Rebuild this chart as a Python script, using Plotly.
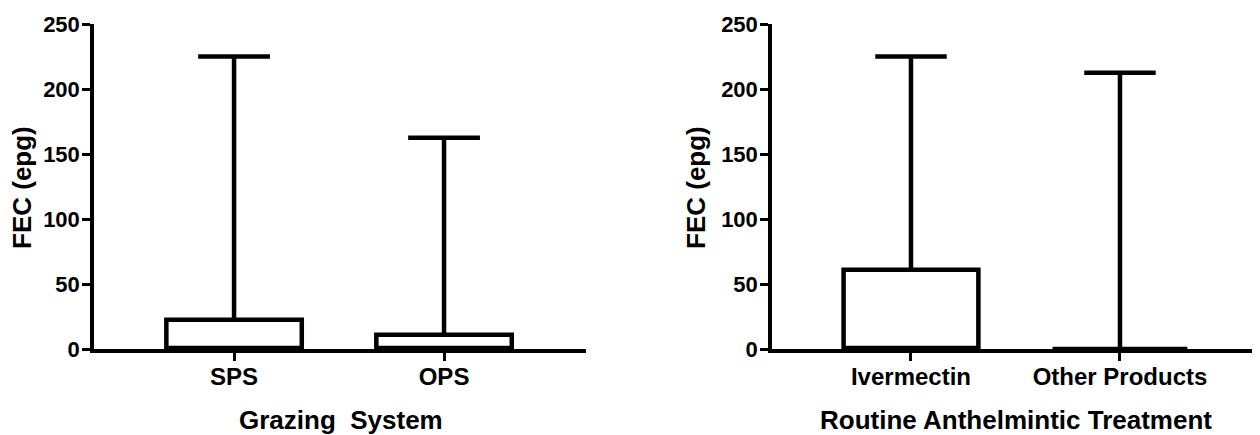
import plotly.graph_objects as go

# ---- data ----
grazing_cats = ["SPS", "OPS"]
grazing_q1 = [0, 0]
grazing_median = [0, 0]
grazing_q3 = [22.5, 11]
grazing_min = [0, 0]
grazing_max = [225, 162.5]

treat_cats = ["Ivermectin", "Other Products"]
treat_q1 = [0, 0]
treat_median = [0, 0]
treat_q3 = [61, 0]
treat_min = [0, 0]
treat_max = [225, 212.5]

y_ticks = [0, 50, 100, 150, 200, 250]
y_title = "FEC (epg)"
x_title_left = "Grazing\u00a0\u00a0System"
x_title_right = "Routine Anthelmintic Treatment"

# page body has an 8px default margin; size the figure to fit the window
OFF = 8
W, H = 1260 - OFF, 435 - OFF
FONT = "Liberation Sans, Arial, sans-serif"

def px_x(p):
    return (p - OFF) / W

def px_y(p):
    return 1 - (p - OFF) / H

box_style = dict(
    line=dict(color="black", width=4.5),
    fillcolor="white",
    width=0.645,
    whiskerwidth=0.53,
    boxpoints=False,
    showlegend=False,
    hoverinfo="skip",
)

fig = go.Figure()
fig.add_trace(go.Box(
    x=grazing_cats, q1=grazing_q1, median=grazing_median, q3=grazing_q3,
    lowerfence=grazing_min, upperfence=grazing_max,
    xaxis="x", yaxis="y", **box_style))
fig.add_trace(go.Box(
    x=treat_cats, q1=treat_q1, median=treat_median, q3=treat_q3,
    lowerfence=treat_min, upperfence=treat_max,
    xaxis="x2", yaxis="y2", **box_style))

xcommon = dict(
    type="category", showline=True, linecolor="black", linewidth=3.5,
    ticks="outside", ticklen=8, tickwidth=3, tickcolor="black",
    tickfont=dict(family=FONT, size=24, color="black", weight="bold"),
    ticklabelstandoff=-5,
    showgrid=False, zeroline=False, fixedrange=True, automargin=False,
)
ycommon = dict(
    range=[0, 250], tickmode="array", tickvals=y_ticks,
    showline=True, linecolor="black", linewidth=3.5,
    ticks="outside", ticklen=8, tickwidth=3, tickcolor="black",
    tickfont=dict(family=FONT, size=22, color="black", weight="bold"),
    ticklabelstandoff=-2,
    showgrid=False, zeroline=False, fixedrange=True, automargin=False,
)

ydom = [px_y(349), px_y(24)]

fig.update_layout(
    width=W, height=H,
    margin=dict(l=0, r=0, t=0, b=0, autoexpand=False),
    paper_bgcolor="white", plot_bgcolor="white",
    xaxis=dict(domain=[px_x(94), px_x(586)], range=[-0.667, 1.676], anchor="y", **xcommon),
    yaxis=dict(domain=ydom, anchor="x", **ycommon),
    xaxis2=dict(domain=[px_x(772), 1.0], range=[-0.665, 1.670], anchor="y2", **xcommon),
    yaxis2=dict(domain=ydom, anchor="x2", **ycommon),
)

title_font = dict(family=FONT, size=26, color="black", weight="bold")
annots = [
    dict(text=y_title, x=px_x(22), y=px_y(188), textangle=-90),
    dict(text=y_title, x=px_x(696), y=px_y(188), textangle=-90),
    dict(text=x_title_left, x=px_x(341), y=px_y(420)),
    dict(text=x_title_right, x=px_x(1016), y=px_y(420)),
]
for a in annots:
    fig.add_annotation(xref="paper", yref="paper", showarrow=False,
                       xanchor="center", yanchor="middle", font=title_font, **a)

fig.write_html("out.html")
